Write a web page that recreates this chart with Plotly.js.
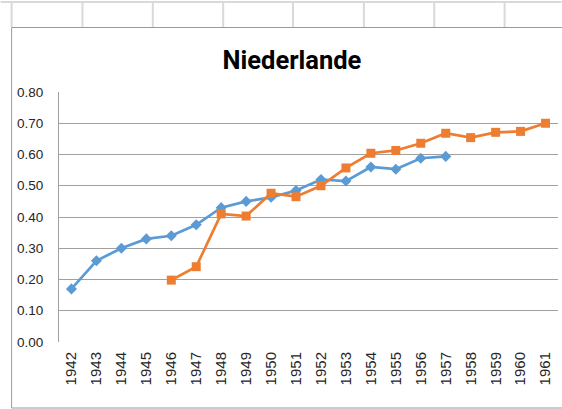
<!DOCTYPE html>
<html>
<head>
<meta charset="utf-8">
<script src="https://cdn.plot.ly/plotly-3.0.1.min.js"></script>
<style>
  html, body { margin: 0; padding: 0; background: #fff; }
  #chart { width: 562px; height: 409px; }
</style>
</head>
<body>
<div id="chart"></div>
<script>
// --- Data ---
const years = ['1942', '1943', '1944', '1945', '1946', '1947', '1948', '1949', '1950', '1951',
               '1952', '1953', '1954', '1955', '1956', '1957', '1958', '1959', '1960', '1961'];
const blueYears = years.slice(0, 16);
const blueValues = [0.17, 0.26, 0.30, 0.33, 0.34, 0.375, 0.43, 0.45, 0.463, 0.485,
                    0.52, 0.515, 0.56, 0.553, 0.588, 0.594];
const orangeYears = years.slice(4);
const orangeValues = [0.198, 0.241, 0.41, 0.403, 0.476, 0.465, 0.50, 0.557, 0.604, 0.613,
                      0.636, 0.668, 0.654, 0.671, 0.674, 0.70];
const yTicks = [0, 0.1, 0.2, 0.3, 0.4, 0.5, 0.6, 0.7, 0.8];

// --- Page geometry (pixels) ---
const W = 562, H = 409;
const plot = { left: 58.5, right: 558.5, top: 92, bottom: 342 };
// pixel -> paper coords (paper is the plot area)
const px = v => (v - plot.left) / (plot.right - plot.left);
const py = v => (plot.bottom - v) / (plot.bottom - plot.top);

// spreadsheet cell lines above the chart
const shapes = [];
const cellGrey = '#d9d9d9';
shapes.push({ type: 'line', xref: 'paper', yref: 'paper', x0: px(0), x1: px(W), y0: py(2), y1: py(2),
              line: { color: cellGrey, width: 2 }, layer: 'below' });
[11, 82, 152.5, 223, 293, 364, 434.5, 505].forEach(x => {
    shapes.push({ type: 'line', xref: 'paper', yref: 'paper', x0: px(x), x1: px(x), y0: py(2), y1: py(27),
                  line: { color: cellGrey, width: 2 }, layer: 'below' });
});
// chart frame
shapes.push({ type: 'rect', xref: 'paper', yref: 'paper', x0: px(11), x1: px(620), y0: py(27.5), y1: py(408),
              line: { color: '#9a9a9a', width: 1 }, layer: 'below' });

const traces = [
    {
        x: blueYears, y: blueValues, type: 'scatter', mode: 'lines+markers', name: 'Reihe1',
        line: { color: '#5b9bd5', width: 2.7 },
        marker: { symbol: 'diamond', size: 8.5, color: '#5b9bd5' }
    },
    {
        x: orangeYears, y: orangeValues, type: 'scatter', mode: 'lines+markers', name: 'Reihe2',
        line: { color: '#ed7d31', width: 2.7 },
        marker: { symbol: 'square', size: 9, color: '#ed7d31' }
    }
];

const layout = {
    width: W, height: H,
    paper_bgcolor: '#fff', plot_bgcolor: 'rgba(0,0,0,0)',
    margin: { l: plot.left, r: W - plot.right, t: plot.top, b: H - plot.bottom, pad: 0 },
    showlegend: false,
    font: { family: 'Liberation Sans, Arial, sans-serif', color: '#262626' },
    title: {
        text: '<b>Niederlande</b>',
        font: { family: 'Roboto, Liberation Sans, sans-serif', size: 25.5, color: '#000' },
        xref: 'container', yref: 'container', x: 292 / W, xanchor: 'center',
        y: 1 - 60 / H, yanchor: 'middle'
    },
    xaxis: {
        type: 'category', categoryarray: years, range: [-0.5, years.length - 0.5],
        tickangle: -90, tickfont: { size: 15 }, ticks: '', showgrid: false,
        showline: false, zeroline: false, ticklabelstandoff: 6, fixedrange: true
    },
    yaxis: {
        range: [0, 0.8], tickvals: yTicks, tickformat: '.2f', tickfont: { size: 13.5 },
        showgrid: true, gridcolor: '#a0a0a0', gridwidth: 1,
        showline: true, linecolor: '#a0a0a0', linewidth: 1, mirror: false,
        zeroline: false, ticks: '', ticklabelstandoff: 12, fixedrange: true
    },
    shapes: shapes
};

Plotly.newPlot('chart', traces, layout, { displayModeBar: false, staticPlot: true });
</script>
</body>
</html>
